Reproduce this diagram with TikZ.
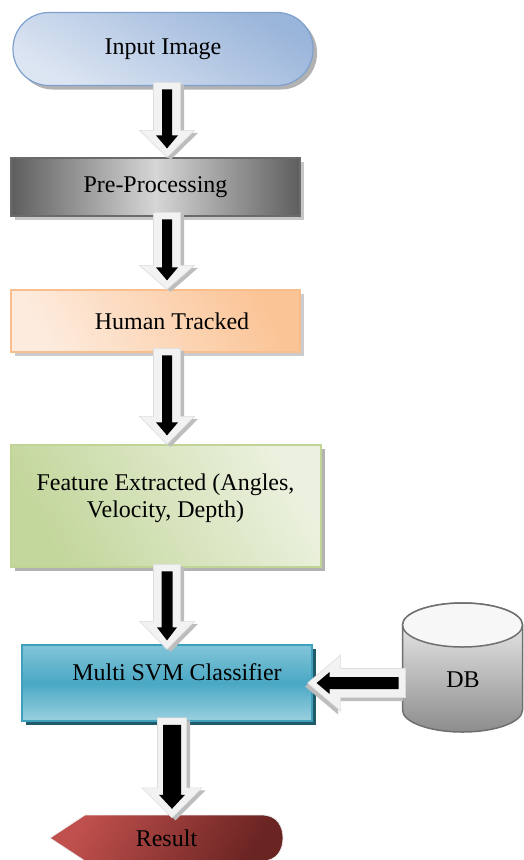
\documentclass[tikz,border=0pt]{standalone}
\usepackage{fontspec}
\setmainfont{Liberation Serif}
\usetikzlibrary{calc,shadows}

\definecolor{inA}{HTML}{DCE5F2}
\definecolor{inB}{HTML}{9AB5DA}
\definecolor{inD}{HTML}{7EA1CF}
\definecolor{preA}{HTML}{5E5E5E}
\definecolor{preB}{HTML}{D6D6D6}
\definecolor{preD}{HTML}{6A6A6A}
\definecolor{orA}{HTML}{FBC496}
\definecolor{orB}{HTML}{FDEBDD}
\definecolor{orD}{HTML}{F9BE8E}
\definecolor{grA}{HTML}{C3D69B}
\definecolor{grB}{HTML}{EBF1DE}
\definecolor{grD}{HTML}{C0D595}
\definecolor{svA}{HTML}{82C5D8}
\definecolor{svB}{HTML}{4AA8C4}
\definecolor{svC}{HTML}{9AD0E0}
\definecolor{svD}{HTML}{3FA0BE}
\definecolor{svS}{HTML}{215A69}
\definecolor{reA}{HTML}{C0504D}
\definecolor{reB}{HTML}{6A2422}
\definecolor{dbD}{HTML}{6F6F6F}
\definecolor{arrfillc}{HTML}{F2F2F2}
\definecolor{arrdrawc}{HTML}{DDDDDD}
\definecolor{arrshadowc}{HTML}{BDBDBD}

\tikzset{
  box/.style={rectangle, line width=1.2pt, inner sep=0pt, align=center},
  boxshadow/.style={drop shadow={shadow xshift=4pt, shadow yshift=-4pt, fill=#1, opacity=1}},
  arrfill/.style={fill=arrfillc, draw=arrdrawc, line width=0.6pt},
  arrshadow/.style={fill=arrshadowc},
}

% #1 rotation, #2 tip, #3 length, #4 shaft half, #5 head half, #6 head length,
% #7 inner shaft half, #8 inner head half, #9 inner head length
\newcommand\blkarrow[9][0]{%
  \begin{scope}[shift={#2}, rotate=#1, x=1pt, y=1pt]
    \begin{scope}[shift={(3.5,-2.5)}]
      \fill[arrshadow] (-#4,#3) -- (-#4,#6) -- (-#5,#6) -- (0,0) -- (#5,#6) -- (#4,#6) -- (#4,#3) -- cycle;
    \end{scope}
    \filldraw[arrfill] (-#4,#3) -- (-#4,#6) -- (-#5,#6) -- (0,0) -- (#5,#6) -- (#4,#6) -- (#4,#3) -- cycle;
    \fill[black] (-#7,{#3-7}) -- (-#7,{9+#9}) -- (-#8,{9+#9}) -- (0,9) -- (#8,{9+#9}) -- (#7,{9+#9}) -- (#7,{#3-7}) -- cycle;
  \end{scope}}

\begin{document}
\begin{tikzpicture}[x=1pt, y=-1pt, font={\fontsize{24}{27}\selectfont}]
\useasboundingbox (0,0) rectangle (523,860);

% Input image
\node[box, draw=inD, rounded corners=36pt, minimum width=300pt, minimum height=73pt,
      top color=inB, bottom color=inA, shading angle=-30, boxshadow=black!30] (inp) at (163,49) {Input Image};

% Pre-processing
\node[box, draw=preD, minimum width=289pt, minimum height=58pt,
      left color=preA, right color=preA, middle color=preB, boxshadow=black!22] (pre) at (155.5,187) {Pre-Processing};

% Human tracked
\node[box, draw=orD, minimum width=289pt, minimum height=62pt,
      left color=orB, right color=orA, shading angle=120, boxshadow=black!20] (hum) at (155.5,321) {\hspace*{33pt}Human Tracked};

% Feature extracted
\node[box, draw=grD, minimum width=310pt, minimum height=122pt,
      left color=grA, right color=grB, shading angle=120, boxshadow=black!30] (feat) at (166,506) {};
\node[align=center, inner sep=0pt] (featt) at (165.5,498) {Feature Extracted (Angles,\\Velocity, Depth)};

% Multi SVM classifier
\node[box, draw=svD, minimum width=290pt, minimum height=76pt,
      top color=svA, bottom color=svC, middle color=svB, boxshadow=svS] (svm) at (167,683) {};
\node[inner sep=0pt] (svmt) at (177,672) {Multi SVM Classifier};

% DB cylinder
\path[top color=black!4, bottom color=black!45, draw=dbD, line width=1.5pt]
  (402.5,625) -- (402.5,710) arc[start angle=180, end angle=360, x radius=60pt, y radius=22pt]
  -- (522.5,625) arc[start angle=0, end angle=180, x radius=60pt, y radius=22pt] -- cycle;
\filldraw[fill=black!3, draw=dbD, line width=1.5pt] (462.5,625) ellipse [x radius=60pt, y radius=22pt];
\node[inner sep=0pt] (db) at (463,680) {DB};

% Result
\path[left color=reA, right color=reB, shading angle=60, draw=black!8, line width=0.8pt]
  (50,838) -- (85,815) -- (262,815) .. controls (277,815) and (283,826) .. (283,838)
  .. controls (283,850) and (277,861) .. (262,861) -- (85,861) -- cycle;
\node[minimum width=233pt, minimum height=46pt, inner sep=0pt] (res) at (166.5,838) {Result};

% arrow axes
\coordinate (ax) at (167,0);
\coordinate (bx) at (172,0);

% block arrows
\blkarrow{(ax |- pre.north)}{75}{13.5}{27.5}{27}{5}{11}{13}
\blkarrow{(ax |- hum.north)}{77}{13.5}{27.5}{24}{5}{11}{13}
\blkarrow{(ax |- feat.north)}{96}{13.5}{27.5}{28}{5}{11}{13}
\blkarrow{($(ax |- svm.north)+(0,5)$)}{85}{13.5}{27.5}{28}{5.5}{10}{13}
\blkarrow{($(bx |- res.north)+(0,3)$)}{100}{14.5}{30}{30}{9}{13}{14}
\blkarrow[-90]{($(svm.east)+(-5,0)$)}{98}{14.5}{28}{33}{6}{11}{13}
\end{tikzpicture}
\end{document}
